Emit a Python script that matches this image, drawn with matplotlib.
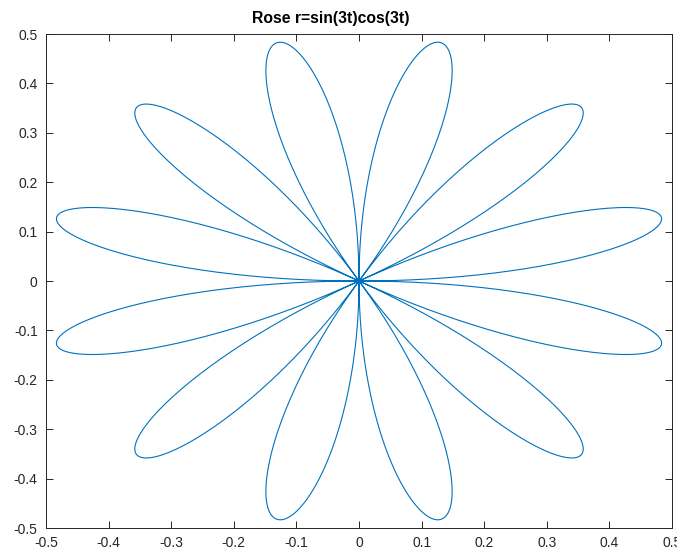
import matplotlib
matplotlib.use('Agg')
import matplotlib.pyplot as plt
import numpy as np

plt.rcParams['font.family'] = ['Liberation Sans', 'DejaVu Sans']

# rose curve from the title: r = sin(3t)cos(3t)
petal_k = 3
t_start, t_end, n_pts = 0.0, 2 * np.pi, 2000
x_ticks = [-0.5, -0.4, -0.3, -0.2, -0.1, 0, 0.1, 0.2, 0.3, 0.4, 0.5]
y_ticks = [-0.5, -0.4, -0.3, -0.2, -0.1, 0, 0.1, 0.2, 0.3, 0.4, 0.5]
tick_labels = ['-0.5', '-0.4', '-0.3', '-0.2', '-0.1', '0', '0.1', '0.2', '0.3', '0.4', '0.5']

t = np.linspace(t_start, t_end, n_pts)
r = np.sin(petal_k * t) * np.cos(petal_k * t)
x = r * np.cos(t)
y = r * np.sin(t)

fig = plt.figure(figsize=(6.77, 5.53), dpi=100)
ax = fig.add_axes([0.068, 0.0452, 0.9246, 0.8933])
ax.plot(x, y, color='#0072BD', linewidth=0.8)

ax.set_xlim(-0.5, 0.5)
ax.set_ylim(-0.5, 0.5)
ax.set_xticks(x_ticks)
ax.set_xticklabels(tick_labels)
ax.set_yticks(y_ticks)
ax.set_yticklabels(tick_labels)
ax.tick_params(direction='in', length=5, width=0.7, colors='#262626',
               labelsize=10, top=True, right=True, labeltop=False, labelright=False,
               pad=6)
for s in ax.spines.values():
    s.set_color('#262626')
    s.set_linewidth(0.7)

ax.set_title('Rose r=sin(3t)cos(3t)', fontsize=11.3, fontweight='bold', pad=8, x=0.455)

fig.savefig('out.png', dpi=100)
